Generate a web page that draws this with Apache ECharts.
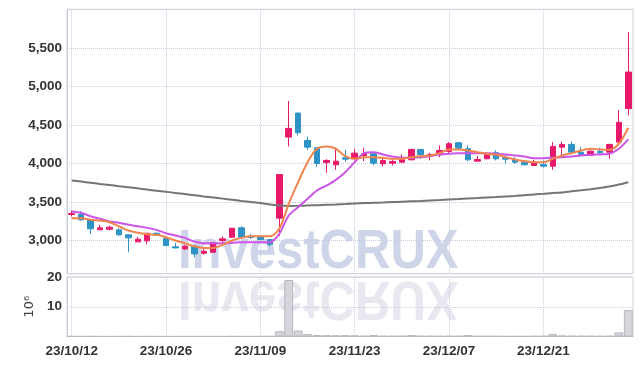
<!DOCTYPE html>
<html>
<head>
<meta charset="utf-8">
<script src="https://cdn.jsdelivr.net/npm/echarts@6/dist/echarts.min.js"></script>
<style>
html,body{margin:0;padding:0;background:#fff}
#chart{width:642px;height:366px}
</style>
</head>
<body>
<div id="chart"></div>
<script>
var dates = ['23/10/12','23/10/13','23/10/16','23/10/17','23/10/18','23/10/19','23/10/20','23/10/23','23/10/24','23/10/25',
  '23/10/26','23/10/27','23/10/30','23/10/31','23/11/01','23/11/02','23/11/03','23/11/06','23/11/07','23/11/08',
  '23/11/09','23/11/10','23/11/13','23/11/14','23/11/15','23/11/16','23/11/17','23/11/20','23/11/21','23/11/22',
  '23/11/23','23/11/24','23/11/27','23/11/28','23/11/29','23/11/30','23/12/01','23/12/04','23/12/05','23/12/06',
  '23/12/07','23/12/08','23/12/11','23/12/12','23/12/13','23/12/14','23/12/15','23/12/18','23/12/19','23/12/20',
  '23/12/21','23/12/22','23/12/26','23/12/27','23/12/28','24/01/02','24/01/03','24/01/04','24/01/05','24/01/08'];

var opens = [3338,3338,3269,3139,3147,3139,3074,2983,2996,3095, 3030,2918,2892,2926,2835,2848,3000,3043,3165,3056,
  3056,3013,3290,4342,4654,4299,4204,4013,3983,4074, 4061,4104,4126,3996,4004,4017,4048,4182,4091,4113,
  4156,4269,4191,4030,4061,4139,4074,4052,4017,3974, 3987,3965,4212,4247,4147,4104,4156,4147,4277,4711];
var closes = [3351,3269,3152,3165,3173,3074,3035,3017,3095,3069, 2935,2905,2926,2827,2861,2970,3022,3160,3043,3039,
  3013,2952,3857,4455,4399,4212,4000,4039,4030,4056, 4134,4126,4004,4039,4026,4048,4182,4113,4117,4169,
  4256,4199,4048,4052,4117,4061,4056,4017,3983,4017, 3965,4221,4247,4147,4117,4160,4139,4247,4533,5186];
var highs = [3390,3381,3275,3204,3195,3160,3074,3048,3095,3104, 3030,2970,2944,2952,2892,2975,3056,3165,3186,3087,
  3061,3017,3857,4810,4659,4347,4212,4056,4204,4178, 4191,4204,4130,4074,4052,4117,4191,4186,4139,4234,
  4277,4277,4234,4095,4125,4169,4117,4082,4048,4048, 4039,4277,4286,4286,4212,4170,4204,4255,4689,5706];
var lows = [3312,3260,3087,3139,3130,3061,2848,2983,2952,3065, 2930,2900,2879,2783,2818,2840,2970,3040,3040,3022,
  3005,2922,3061,4221,4364,4178,3952,3879,3918,4026, 4039,4030,3974,3961,3974,4010,4040,4061,4039,4082,
  4126,4190,4030,4026,4056,4039,3996,3996,3978,3970, 3948,3918,4104,4139,4110,4100,4117,4061,4270,4624];

// moving averages
var ma5 = [3290,3290,3269,3260,3238,3186,3130,3100,3082,3074, 3043,3000,2965,2926,2905,2905,2944,3000,3035,3056,
  3056,3056,3152,3477,3757,4017,4191,4221,4191,4095, 4061,4082,4082,4074,4061,4061,4082,4095,4104,4134,
  4182,4182,4169,4147,4126,4113,4082,4052,4030,4017, 4017,4061,4104,4134,4169,4191,4182,4178,4256,4464];
var ma10 = [3377,3360,3316,3282,3247,3230,3204,3186,3165,3139, 3095,3065,3035,2987,2965,2965,2965,2970,2978,2978,
  2978,2978,3087,3325,3433,3542,3650,3714,3788,3887, 4017,4134,4147,4117,4091,4074,4074,4082,4095,4117,
  4126,4134,4134,4134,4134,4126,4117,4104,4091,4069, 4069,4074,4082,4091,4104,4113,4117,4126,4191,4312];
var maLong = [3779,3765,3750,3735,3721,3705,3691,3677,3661,3647, 3633,3617,3603,3588,3573,3559,3544,3529,3514,3500,
  3486,3468,3455,3449,3451,3455,3459,3464,3468,3474, 3481,3486,3490,3494,3499,3504,3509,3514,3520,3526,
  3533,3539,3546,3552,3559,3565,3572,3579,3587,3598, 3607,3617,3624,3639,3652,3666,3682,3701,3727,3757];

// volume in millions
var volumes = [0.1,0.08,0.1,0.06,0.05,0.07,0.1,0.06,0.08,0.05, 0.06,0.05,0.07,0.08,0.05,0.08,0.06,0.1,0.08,0.06,
  0.07,0.12,1.8,19.0,2.0,0.8,0.5,0.4,0.4,0.4, 0.4,0.2,0.5,0.2,0.2,0.2,0.5,0.2,0.2,0.15,
  0.2,0.2,0.5,0.15,0.15,0.15,0.1,0.1,0.1,0.15, 0.15,0.8,0.3,0.25,0.2,0.2,0.15,0.2,1.4,8.9];

var candles = opens.map(function (o, i) {
    return [o, closes[i], lows[i], highs[i]];
});

var labelFont = "'Liberation Sans', Arial, sans-serif";
var gridLine = { show: true, lineStyle: { type: 'dotted', color: '#caccE2', width: 1 } };
var tickText = { color: '#333', fontSize: 13.5, fontWeight: 'bold', fontFamily: labelFont };

var myChart = echarts.init(document.getElementById('chart'));
var option = {
    animation: false,
    graphic: [
        {
            type: 'text', x: 178, y: 253, scaleY: 1.14, z: 0,
            style: { text: 'InvestCRUX', font: 'bold 49px "Liberation Sans"', fill: '#cfd5e9', verticalAlign: 'middle' }
        },
        {
            type: 'text', x: 178, y: 297, scaleY: -1.14, z: 0,
            style: { text: 'InvestCRUX', font: 'bold 49px "Liberation Sans"', fill: '#e7e8f0', verticalAlign: 'middle' }
        }
    ],
    grid: [
        { left: 67, width: 566, top: 9.3, height: 264.4, show: true, borderColor: '#cfcfd6', borderWidth: 1 },
        { left: 67, width: 566, top: 277, height: 59.5, show: true, borderColor: '#cfcfd6', borderWidth: 1 }
    ],
    xAxis: [
        {
            type: 'category', data: dates, gridIndex: 0,
            axisLine: { show: false }, axisTick: { show: false }, axisLabel: { show: false },
            splitLine: { show: true, interval: 9, alignWithLabel: true, lineStyle: gridLine.lineStyle }
        },
        {
            type: 'category', data: dates, gridIndex: 1,
            axisLine: { show: true, lineStyle: { color: '#bdbdc4' } }, axisTick: { show: false },
            axisLabel: Object.assign({ interval: 9, margin: 8 }, tickText),
            splitLine: { show: true, interval: 9, alignWithLabel: true, lineStyle: gridLine.lineStyle }
        }
    ],
    yAxis: [
        {
            type: 'value', gridIndex: 0, min: 2570, max: 6000, scale: true,
            axisLine: { show: true, lineStyle: { color: '#cfcfd6' } }, axisTick: { show: false },
            axisLabel: Object.assign({
                showMinLabel: false, showMaxLabel: false, margin: 5,
                formatter: function (v) { return v.toLocaleString('en-US'); }
            }, tickText),
            splitLine: gridLine
        },
        {
            type: 'value', gridIndex: 1, min: 0, max: 20, splitNumber: 2,
            name: '10\u2076', nameLocation: 'middle', nameRotate: 90, nameGap: 26,
            nameTextStyle: { color: '#444', fontSize: 13, fontFamily: 'DejaVu Sans' },
            axisLine: { show: true, lineStyle: { color: '#cfcfd6' } }, axisTick: { show: false },
            axisLabel: Object.assign({ showMinLabel: false, margin: 5 }, tickText),
            splitLine: gridLine
        }
    ],
    series: [
        {
            type: 'candlestick', xAxisIndex: 0, yAxisIndex: 0, data: candles, barWidth: 6,
            itemStyle: { color: '#e8196a', color0: '#2e93c6', borderColor: '#e8196a', borderColor0: '#2e93c6', borderWidth: 1 }
        },
        {
            type: 'line', xAxisIndex: 0, yAxisIndex: 0, data: maLong, symbol: 'none', smooth: 0.3,
            lineStyle: { color: '#757575', width: 2 }
        },
        {
            type: 'line', xAxisIndex: 0, yAxisIndex: 0, data: ma10, symbol: 'none', smooth: 0.3,
            lineStyle: { color: '#cc55e8', width: 2 }
        },
        {
            type: 'line', xAxisIndex: 0, yAxisIndex: 0, data: ma5, symbol: 'none', smooth: 0.3,
            lineStyle: { color: '#f0854e', width: 2 }
        },
        {
            type: 'bar', xAxisIndex: 1, yAxisIndex: 1, data: volumes, barCategoryGap: '6%',
            itemStyle: { color: '#d5d5dc', borderColor: '#b8b8c0', borderWidth: 1 }
        }
    ]
};
myChart.setOption(option);
</script>
</body>
</html>
